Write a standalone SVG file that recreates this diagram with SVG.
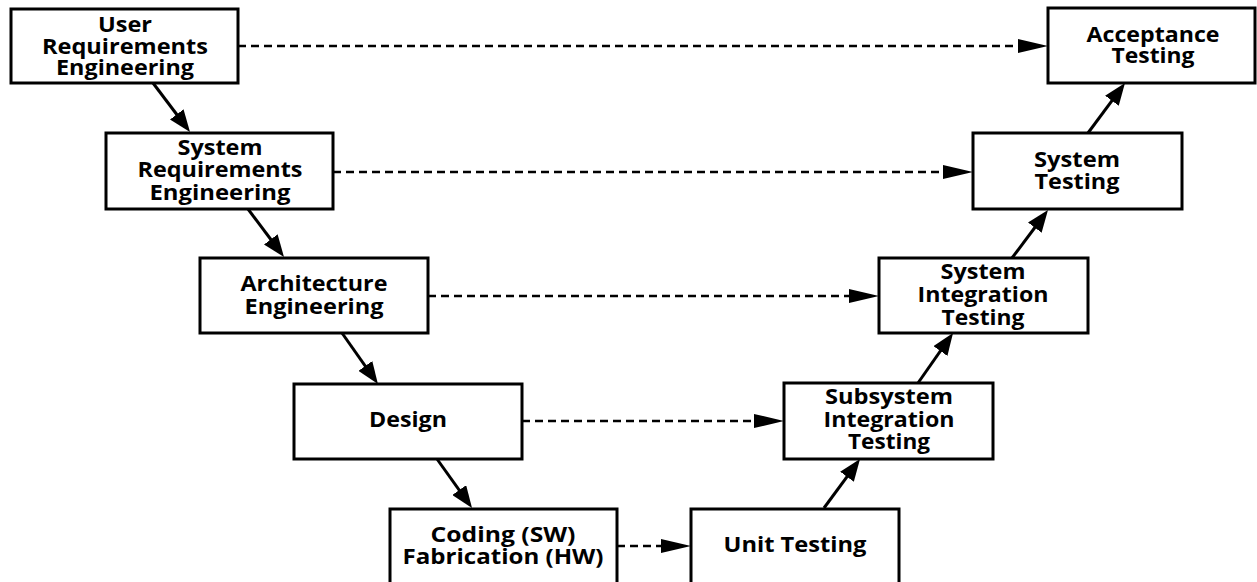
<svg xmlns="http://www.w3.org/2000/svg" width="1257" height="582" viewBox="0 0 1257 582">
<style>
.box{fill:#fff;stroke:#000;stroke-width:3}
.t{font-family:"Open Sans","Liberation Sans",sans-serif;font-weight:bold;font-size:21px;fill:#000;text-anchor:middle}
.solid{stroke:#000;stroke-width:3;fill:none}
.dash{stroke:#000;stroke-width:2.5;fill:none;stroke-dasharray:8 5}
</style>
<defs>
<marker id="ah" markerUnits="userSpaceOnUse" markerWidth="22" markerHeight="17" viewBox="0 0 22 17" refX="12" refY="8.5" orient="auto"><path d="M0,0 L22,8.5 L0,17 z" fill="#000"/></marker>
<marker id="dh" markerUnits="userSpaceOnUse" markerWidth="30" markerHeight="14" viewBox="0 0 30 14" refX="20" refY="7" orient="auto"><path d="M0,0 L30,7 L0,14 z" fill="#000"/></marker>
</defs>
<rect width="1257" height="582" fill="#fff"/>
<g id="connectors">
<line class="dash" x1="238" y1="46" x2="1038" y2="46" marker-end="url(#dh)"/>
<line class="dash" x1="333" y1="172" x2="963" y2="172" marker-end="url(#dh)"/>
<line class="dash" x1="428" y1="296" x2="869" y2="296" marker-end="url(#dh)"/>
<line class="dash" x1="522" y1="421" x2="774" y2="421" marker-end="url(#dh)"/>
<line class="dash" x1="617" y1="546" x2="681" y2="546" marker-end="url(#dh)"/>
<line class="solid" x1="153" y1="83" x2="183.97" y2="124.02" marker-end="url(#ah)"/>
<line class="solid" x1="248" y1="209" x2="278" y2="249" marker-end="url(#ah)"/>
<line class="solid" x1="342" y1="333" x2="372.2" y2="375.8" marker-end="url(#ah)"/>
<line class="solid" x1="437" y1="459" x2="466.2" y2="499.9" marker-end="url(#ah)"/>
<line class="solid" x1="824" y1="508" x2="854.1" y2="467.1" marker-end="url(#ah)"/>
<line class="solid" x1="918" y1="383" x2="947.3" y2="341.2" marker-end="url(#ah)"/>
<line class="solid" x1="1012" y1="258" x2="1042" y2="218" marker-end="url(#ah)"/>
<line class="solid" x1="1088" y1="133" x2="1119.05" y2="91.04" marker-end="url(#ah)"/>
</g>
<g id="user-req">
<rect class="box" x="11" y="9" width="227" height="74"/>
<text class="t" x="125" y="32" textLength="54" lengthAdjust="spacingAndGlyphs">User</text>
<text class="t" x="125" y="54" textLength="166" lengthAdjust="spacingAndGlyphs">Requirements</text>
<text class="t" x="125" y="75" textLength="138" lengthAdjust="spacingAndGlyphs">Engineering</text>
</g>
<g id="system-req">
<rect class="box" x="106" y="133" width="227" height="76"/>
<text class="t" x="220" y="155" textLength="85" lengthAdjust="spacingAndGlyphs">System</text>
<text class="t" x="220" y="177" textLength="165" lengthAdjust="spacingAndGlyphs">Requirements</text>
<text class="t" x="220" y="200" textLength="141" lengthAdjust="spacingAndGlyphs">Engineering</text>
</g>
<g id="architecture">
<rect class="box" x="200" y="258" width="228" height="75"/>
<text class="t" x="314" y="291" textLength="147" lengthAdjust="spacingAndGlyphs">Architecture</text>
<text class="t" x="314" y="314" textLength="139" lengthAdjust="spacingAndGlyphs">Engineering</text>
</g>
<g id="design">
<rect class="box" x="294" y="384" width="228" height="75"/>
<text class="t" x="408" y="427" textLength="78" lengthAdjust="spacingAndGlyphs">Design</text>
</g>
<g id="coding">
<rect class="box" x="390" y="509" width="227" height="82"/>
<text class="t" x="503" y="542" textLength="145" lengthAdjust="spacingAndGlyphs">Coding (SW)</text>
<text class="t" x="503" y="564" textLength="201" lengthAdjust="spacingAndGlyphs">Fabrication (HW)</text>
</g>
<g id="unit-testing">
<rect class="box" x="691" y="509" width="208" height="82"/>
<text class="t" x="795" y="552" textLength="143" lengthAdjust="spacingAndGlyphs">Unit Testing</text>
</g>
<g id="subsystem-integration">
<rect class="box" x="784" y="383" width="209" height="76"/>
<text class="t" x="889" y="404" textLength="128" lengthAdjust="spacingAndGlyphs">Subsystem</text>
<text class="t" x="889" y="427" textLength="131" lengthAdjust="spacingAndGlyphs">Integration</text>
<text class="t" x="889" y="449" textLength="82" lengthAdjust="spacingAndGlyphs">Testing</text>
</g>
<g id="system-integration">
<rect class="box" x="879" y="258" width="209" height="75"/>
<text class="t" x="983" y="279" textLength="85" lengthAdjust="spacingAndGlyphs">System</text>
<text class="t" x="983" y="302" textLength="131" lengthAdjust="spacingAndGlyphs">Integration</text>
<text class="t" x="983" y="325" textLength="83" lengthAdjust="spacingAndGlyphs">Testing</text>
</g>
<g id="system-testing">
<rect class="box" x="973" y="133" width="209" height="76"/>
<text class="t" x="1077" y="167" textLength="86" lengthAdjust="spacingAndGlyphs">System</text>
<text class="t" x="1077" y="189" textLength="85" lengthAdjust="spacingAndGlyphs">Testing</text>
</g>
<g id="acceptance-testing">
<rect class="box" x="1048" y="8" width="207" height="75"/>
<text class="t" x="1153" y="42" textLength="133" lengthAdjust="spacingAndGlyphs">Acceptance</text>
<text class="t" x="1153" y="63" textLength="83" lengthAdjust="spacingAndGlyphs">Testing</text>
</g>
</svg>
